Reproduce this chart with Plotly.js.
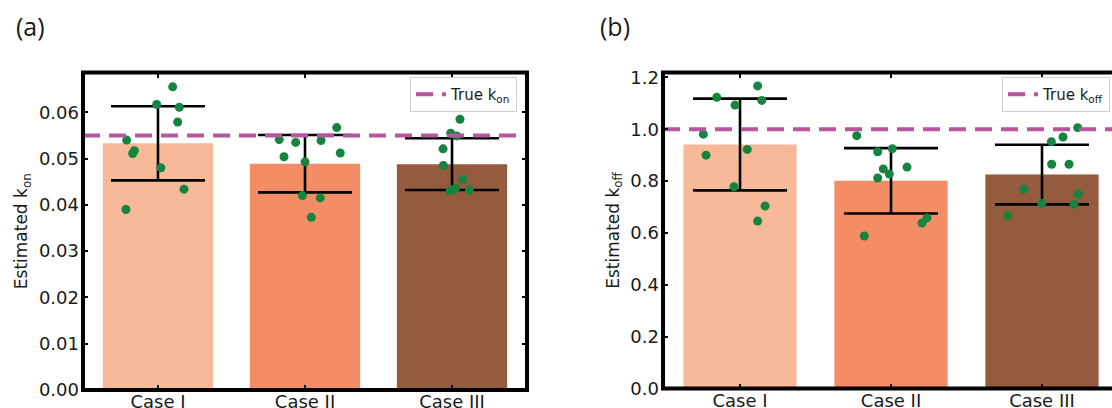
<!DOCTYPE html>
<html><head><meta charset="utf-8">
<script src="https://cdn.plot.ly/plotly-3.0.1.min.js"></script>
<style>html,body{margin:0;padding:0;overflow:hidden;background:#fff}</style>
</head><body><div id="chart" style="width:1124px;height:408px"></div>
<script>
const categories = ['Case I', 'Case II', 'Case III'];
const barColors = ['#F8B999', '#F48D66', '#955B3E'];

// panel (a): k_on
const konMean = [0.0533, 0.0489, 0.0488];
const konErr = [0.0080, 0.0062, 0.0056];
const konTrue = 0.055;
const konJitterI = [-0.218, -0.213, -0.172, -0.161, 0.020, -0.009, 0.100, 0.145, 0.134, 0.177];
const konI = [0.0390, 0.0540, 0.0511, 0.0517, 0.0480, 0.0617, 0.0655, 0.0611, 0.0579, 0.0434];
const konJitterII = [-0.175, -0.063, 0.109, 0.216, 0.240, -0.143, 0.000, -0.018, 0.104, 0.043];
const konII = [0.0541, 0.0535, 0.0539, 0.0567, 0.0512, 0.0504, 0.0493, 0.0420, 0.0415, 0.0373];
const konJitterIII = [0.054, -0.009, 0.032, -0.061, -0.059, 0.073, -0.014, 0.025, 0.118, 0.005];
const konIII = [0.0585, 0.0555, 0.0549, 0.0521, 0.0485, 0.0455, 0.0430, 0.0436, 0.0432, 0.0433];

// panel (b): k_off
const koffMean = [0.941, 0.801, 0.825];
const koffErr = [0.177, 0.126, 0.115];
const koffTrue = 1.0;
const koffJitterI = [-0.243, -0.225, -0.154, -0.033, 0.117, 0.144, 0.048, -0.040, 0.166, 0.117];
const koffI = [0.981, 0.900, 1.123, 1.093, 1.167, 1.111, 0.922, 0.778, 0.704, 0.646];
const koffJitterII = [-0.227, -0.177, -0.088, 0.009, -0.051, -0.011, -0.088, 0.106, 0.238, 0.205];
const koffII = [0.975, 0.588, 0.913, 0.925, 0.847, 0.827, 0.812, 0.854, 0.658, 0.638];
const koffJitterIII = [0.236, 0.139, 0.062, 0.064, 0.179, -0.121, 0.240, -0.002, 0.212, -0.227];
const koffIII = [1.006, 0.970, 0.952, 0.865, 0.865, 0.769, 0.750, 0.714, 0.710, 0.666];

const catIdx = [0, 1, 2];
const W = 1124, H = 408;
const FONT = 'DejaVu Sans';
const dotColor = '#16843F';
const trueColor = '#B8559F';

function jittered(jits, idx) { return jits.map(j => idx + j); }

function panelTraces(xa, ya, mean, err, trueVal, jit, vals, legendName, label) {
  const xs = [].concat(jittered(jit[0], 0), jittered(jit[1], 1), jittered(jit[2], 2));
  const ys = [].concat(vals[0], vals[1], vals[2]);
  return [
    {type: 'bar', x: catIdx, y: mean, xaxis: xa, yaxis: ya, width: 0.75,
     marker: {color: barColors, line: {width: 0}}, showlegend: false, hoverinfo: 'skip',
     error_y: {type: 'data', array: err, visible: true, color: '#000', thickness: 2.6, width: 47}},
    {type: 'scatter', mode: 'markers', x: xs, y: ys, xaxis: xa, yaxis: ya,
     marker: {color: dotColor, size: 9}, showlegend: false, hoverinfo: 'skip'},
    {type: 'scatter', mode: 'lines', x: [-0.51, 2.51], y: [trueVal, trueVal], xaxis: xa, yaxis: ya,
     name: label, legend: legendName,
     line: {color: trueColor, width: 4, dash: '17px,9px'}, hoverinfo: 'skip'}
  ];
}

const data = [].concat(
  panelTraces('x', 'y', konMean, konErr, konTrue, [konJitterI, konJitterII, konJitterIII], [konI, konII, konIII], 'legend', 'True k<sub>on</sub>'),
  panelTraces('x2', 'y2', koffMean, koffErr, koffTrue, [koffJitterI, koffJitterII, koffJitterIII], [koffI, koffII, koffIII], 'legend2', 'True k<sub>off</sub>')
);

const tickFont = {family: FONT, size: 18, color: '#1a1a1a'};
function xAxis(domain, anchor) {
  return {domain: domain, anchor: anchor, range: [-0.51, 2.51], tickvals: catIdx, ticktext: categories,
    ticks: 'inside', ticklen: 5, tickwidth: 2, tickcolor: '#000', mirror: 'allticks',
    showgrid: false, zeroline: false, showline: false, tickfont: tickFont, ticklabelstandoff: -1, fixedrange: true};
}
function yAxis(domain, anchor, range, dtick, fmt, title) {
  return {domain: domain, anchor: anchor, range: range, dtick: dtick, tick0: 0, tickformat: fmt,
    ticks: 'inside', ticklen: 5, tickwidth: 2, tickcolor: '#000', mirror: 'allticks',
    showgrid: false, zeroline: false, showline: false, tickfont: tickFont, ticklabelstandoff: 3,
    title: {text: title, font: {family: FONT, size: 17, color: '#1a1a1a'}, standoff: 6}, fixedrange: true};
}
const legendBase = {yref: 'paper', xref: 'paper', yanchor: 'top', xanchor: 'left',
  bgcolor: 'rgba(255,255,255,0.9)', bordercolor: '#d0d0d0', borderwidth: 1,
  font: {family: FONT, size: 15, color: '#1a1a1a'}, tracegroupgap: 0, itemwidth: 30};

const layout = {
  width: W, height: H, autosize: false,
  margin: {l: 0, r: 0, t: 0, b: 0},
  paper_bgcolor: '#fff', plot_bgcolor: '#fff',
  showlegend: true,
  xaxis: xAxis([83 / W, 527 / W], 'y'),
  yaxis: yAxis([18 / H, 335.5 / H], 'x', [0, 0.0686], 0.01, '.2f', 'Estimated k<sub>on</sub>'),
  xaxis2: xAxis([663 / W, 1119 / W], 'y2'),
  yaxis2: yAxis([19.5 / H, 335.5 / H], 'x2', [0, 1.2187], 0.2, '.1f', 'Estimated k<sub>off</sub>'),
  legend: Object.assign({}, legendBase, {x: 410 / W, y: (H - 77) / H}),
  legend2: Object.assign({}, legendBase, {x: 1002 / W, y: (H - 77) / H}),
  shapes: [
    {type: 'rect', xref: 'x domain', yref: 'y domain', x0: 0, x1: 1, y0: 0, y1: 1, line: {color: '#000', width: 4}, layer: 'above'},
    {type: 'rect', xref: 'x2 domain', yref: 'y2 domain', x0: 0, x1: 1, y0: 0, y1: 1, line: {color: '#000', width: 4}, layer: 'above'}
  ],
  annotations: [
    {text: '(a)', xref: 'paper', yref: 'paper', x: 14 / W, y: (H - 26) / H, xanchor: 'left', yanchor: 'middle', showarrow: false,
     font: {family: 'Open Sans', size: 25, color: '#1a1a1a'}},
    {text: '(b)', xref: 'paper', yref: 'paper', x: 598 / W, y: (H - 26) / H, xanchor: 'left', yanchor: 'middle', showarrow: false,
     font: {family: 'Open Sans', size: 25, color: '#1a1a1a'}}
  ]
};

Plotly.newPlot('chart', data, layout, {displayModeBar: false, staticPlot: true});
</script></body></html>
